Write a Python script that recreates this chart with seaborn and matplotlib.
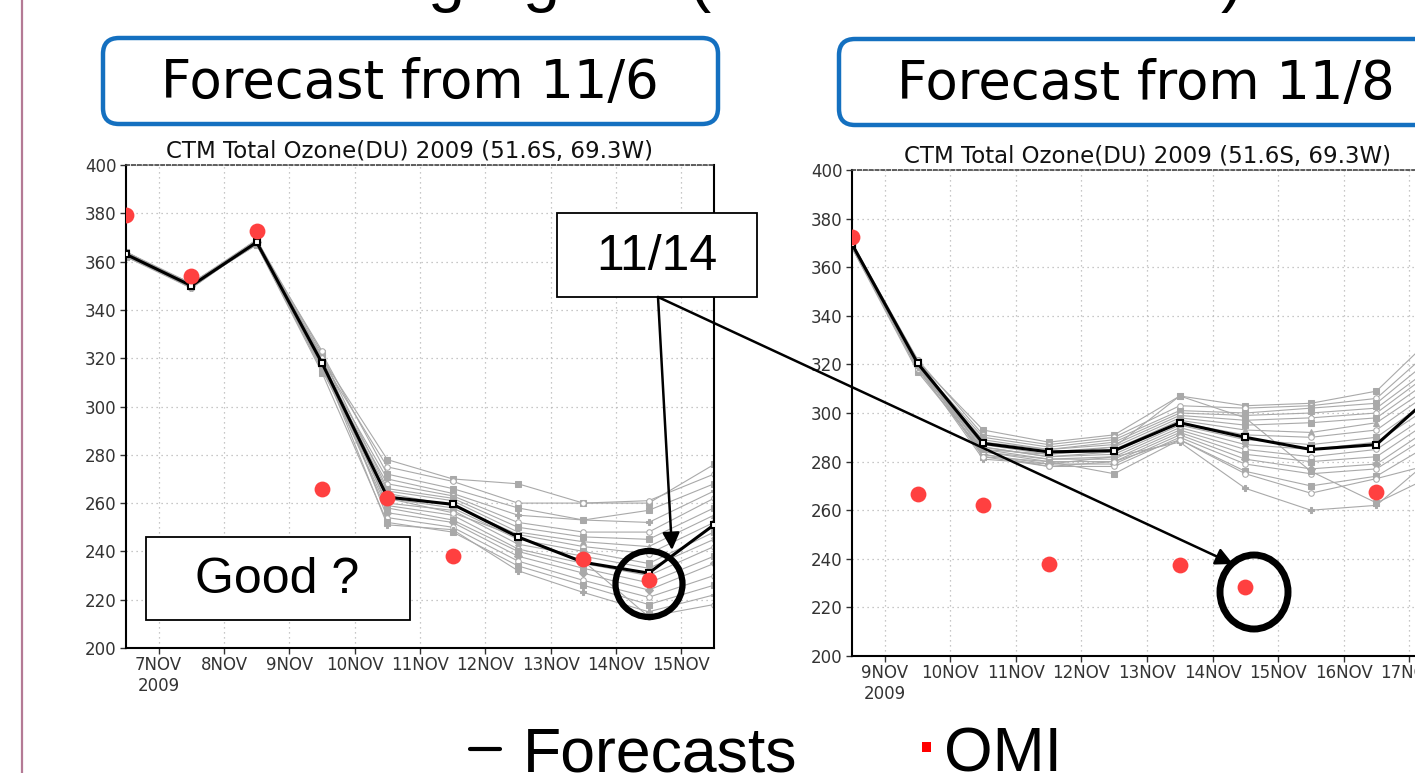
import matplotlib
matplotlib.use("Agg")
import matplotlib.pyplot as plt
import pandas as pd
import seaborn as sns
from matplotlib.lines import Line2D
from matplotlib.patches import Ellipse, FancyArrowPatch, FancyBboxPatch, Rectangle
from matplotlib.transforms import Affine2D

W, H, DPI = 1415, 773, 100

# ---- data (day 7.5 = 7 Nov 12Z) ----
title = "CTM Total Ozone(DU) 2009 (51.6S, 69.3W)"

left_days = [6.5, 7.5, 8.5, 9.5, 10.5, 11.5, 12.5, 13.5, 14.5, 15.5]
left_forecast = [363, 350, 368, 318, 262.5, 259.5, 246, 235.5, 231, 251]
left_omi_days = [6.5, 7.5, 8.5, 9.5, 10.5, 11.5, 13.5, 14.5]
left_omi = [379.5, 354, 372.5, 266, 262, 238, 237, 228]
left_ticks = [7, 8, 9, 10, 11, 12, 13, 14, 15]
left_ticklabels = ["7NOV\n2009", "8NOV", "9NOV", "10NOV", "11NOV", "12NOV",
                   "13NOV", "14NOV", "15NOV"]
left_members = [
    [363, 351, 368, 320, 278, 270, 268, 260, 260, 276],
    [362, 350, 367, 319, 275, 269, 260, 260, 261, 272],
    [364, 351, 369, 322, 272, 266, 258, 253, 257, 268],
    [363, 350, 368, 317, 270, 264, 255, 253, 252, 265],
    [362, 349, 368, 316, 268, 263, 252, 248, 248, 262],
    [363, 351, 368, 321, 266, 262, 250, 246, 245, 258],
    [364, 350, 369, 318, 265, 261, 248, 244, 242, 255],
    [362, 350, 367, 315, 264, 259, 247, 242, 239, 252],
    [363, 351, 368, 319, 262, 258, 245, 240, 235, 248],
    [363, 349, 368, 317, 260, 257, 243, 238, 233, 245],
    [364, 350, 369, 320, 259, 255, 241, 235, 230, 242],
    [362, 351, 367, 316, 258, 253, 240, 233, 227, 238],
    [363, 350, 368, 318, 256, 252, 238, 231, 224, 235],
    [363, 350, 368, 323, 254, 250, 236, 228, 221, 230],
    [362, 351, 367, 314, 252, 248, 234, 226, 218, 226],
    [364, 350, 369, 318, 251, 249, 232, 223, 215, 222],
    [363, 350, 368, 319, 262, 256, 246, 236, 213, 218],
]

right_days = [8.5, 9.5, 10.5, 11.5, 12.5, 13.5, 14.5, 15.5, 16.5, 17.5]
right_forecast = [369.5, 320.5, 287.5, 284, 284.5, 296, 290, 285, 287, 311]
right_omi_days = [8.5, 9.5, 10.5, 11.5, 13.5, 14.5, 16.5]
right_omi = [372.5, 266.5, 262, 238, 237.5, 228.5, 267.5]
right_ticks = [9, 10, 11, 12, 13, 14, 15, 16, 17]
right_ticklabels = ["9NOV\n2009", "10NOV", "11NOV", "12NOV", "13NOV", "14NOV",
                    "15NOV", "16NOV", "17NOV"]
right_members = [
    [369, 321, 293, 288, 291, 307, 303, 304, 309, 335],
    [370, 322, 291, 287, 290, 303, 302, 303, 306, 330],
    [369, 320, 290, 286, 289, 301, 300, 302, 304, 326],
    [368, 319, 289, 285, 288, 300, 299, 300, 302, 322],
    [370, 321, 288, 285, 287, 299, 297, 298, 300, 320],
    [369, 320, 287, 284, 286, 298, 295, 296, 298, 317],
    [369, 318, 287, 283, 285, 297, 293, 292, 296, 314],
    [368, 322, 286, 282, 284, 296, 291, 290, 293, 312],
    [370, 320, 286, 282, 283, 295, 289, 287, 290, 309],
    [369, 319, 285, 281, 282, 294, 287, 285, 288, 306],
    [369, 321, 284, 281, 281, 293, 285, 282, 285, 303],
    [368, 317, 284, 280, 280, 292, 283, 280, 282, 300],
    [370, 320, 283, 279, 279, 291, 281, 277, 279, 297],
    [369, 318, 283, 278, 278, 290, 279, 275, 277, 294],
    [369, 320, 282, 280, 275, 289, 276, 270, 274, 290],
    [368, 319, 281, 279, 282, 288, 269, 260, 262, 285],
    [370, 321, 282, 278, 280, 289, 275, 267, 273, 280],
    [369, 320, 285, 283, 286, 307, 298, 276, 263, 276],
]

yticks = list(range(200, 401, 20))
member_markers = ["s", "o", "s", "P", "o", "s", "^", "o", "s", "X", "o", "s", "D", "o", "s", "P", "o", "s"]

GRAY = "#a9a9a9"
RED = "#ff4040"
BLUE = "#1470c0"

sns.set_style("white")
plt.rcParams["font.family"] = ["DejaVu Sans"]

fig = plt.figure(figsize=(W / DPI, H / DPI), dpi=DPI)
PX = Affine2D().scale(1 / DPI, -1 / DPI).translate(0, H / DPI) + fig.dpi_scale_trans


def axes_at(x0, y0, x1, y1):
    return fig.add_axes([x0 / W, (H - y1) / H, (x1 - x0) / W, (y1 - y0) / H])


def draw_panel(ax, days, members, forecast, omi_days, omi, ticks, ticklabels):
    rows = []
    for i, vals in enumerate(members):
        for d, v in zip(days, vals):
            rows.append({"member": f"m{i:02d}", "day": d, "du": v})
    ens = pd.DataFrame(rows)
    n = len(members)
    sns.lineplot(data=ens, x="day", y="du", hue="member", style="member",
                 palette=[GRAY] * n, markers=member_markers[:n], dashes=False,
                 markersize=4, linewidth=0.8, markeredgecolor=GRAY,
                 legend=False, sort=False, ax=ax)
    for k, line in enumerate(ax.lines):
        if k % 3 == 1:
            line.set_markerfacecolor("white")
    sns.lineplot(x=days, y=forecast, color="black", linewidth=2.2, marker="s",
                 markersize=5, markerfacecolor="white", markeredgecolor="black",
                 markeredgewidth=1.5, ax=ax, zorder=4)
    sns.scatterplot(x=omi_days, y=omi, color=RED, s=130, linewidth=0, ax=ax, zorder=5)

    ax.set_xlim(days[0], days[-1])
    ax.set_ylim(200, 400)
    ax.set_xticks(ticks)
    ax.set_xticklabels(ticklabels)
    ax.set_yticks(yticks)
    ax.set_xlabel("")
    ax.set_ylabel("")
    ax.grid(True, color="#b5b5b5", linestyle=(0, (1, 3)), linewidth=0.9)
    ax.set_axisbelow(True)
    ax.tick_params(axis="both", direction="out", length=4, width=1, color="#333333",
                   labelsize=12, labelcolor="#333333", pad=3)
    ax.tick_params(axis="x", bottom=True, pad=2)
    ax.tick_params(axis="y", left=True)
    for side in ["left", "bottom", "right"]:
        ax.spines[side].set_color("black")
        ax.spines[side].set_linewidth(1.5)
    ax.spines["top"].set_color("#444444")
    ax.spines["top"].set_linestyle((0, (2, 1.5)))
    ax.spines["top"].set_linewidth(1.2)


ax_l = axes_at(126, 165, 714, 648)
draw_panel(ax_l, left_days, left_members, left_forecast, left_omi_days, left_omi,
           left_ticks, left_ticklabels)
ax_r = axes_at(852, 170, 1442, 656)
draw_panel(ax_r, right_days, right_members, right_forecast, right_omi_days, right_omi,
           right_ticks, right_ticklabels)

# panel titles
fig.text(410, 158, title, transform=PX, ha="center", va="baseline", fontsize=16.5, color="#111111")
fig.text(1148, 163, title, transform=PX, ha="center", va="baseline", fontsize=16.5, color="#111111")

# slide decoration: margin line and clipped heading
fig.add_artist(Line2D([21.5, 21.5], [0, H], transform=PX, color="#b47a95", linewidth=1.6))
for gx, glyph in [(446, "g"), (541, "g"), (700, "("), (1232, ")")]:
    fig.text(gx, -1, glyph, transform=PX, ha="center", va="baseline", fontsize=48,
             family="Liberation Sans", color="black")

# blue header boxes
for (x0, y0, x1, y1) in [(103, 38, 718, 124), (839, 39, 1460, 125)]:
    fig.add_artist(FancyBboxPatch((x0, y0), x1 - x0, y1 - y0,
                                  boxstyle="round,pad=0,rounding_size=16",
                                  transform=PX, facecolor="white", edgecolor=BLUE,
                                  linewidth=3.2, zorder=5))
fig.text(410, 83, "Forecast from 11/6", transform=PX, ha="center", va="center",
         fontsize=38, color="black", zorder=6)
fig.text(1146, 84, "Forecast from 11/8", transform=PX, ha="center", va="center",
         fontsize=38, color="black", zorder=6)

# callouts
fig.add_artist(Rectangle((557, 213), 200, 84, transform=PX, facecolor="white",
                         edgecolor="black", linewidth=1.3, zorder=5))
fig.text(657, 257, "11/14", transform=PX, ha="center", va="center", fontsize=36,
         family="Liberation Sans", color="black", zorder=6)
fig.add_artist(Rectangle((146, 537), 264, 83, transform=PX, facecolor="white",
                         edgecolor="black", linewidth=1.3, zorder=5))
fig.text(277, 580, "Good ?", transform=PX, ha="center", va="center", fontsize=36,
         family="Liberation Sans", color="black", zorder=6)

for tip in [(672, 550), (1233, 564)]:
    fig.add_artist(FancyArrowPatch((658, 297), tip, transform=PX, arrowstyle="-|>",
                                   mutation_scale=26, linewidth=1.8, color="black",
                                   shrinkA=0, shrinkB=0, zorder=6))
fig.add_artist(Ellipse((649, 584), 67, 66, transform=PX, facecolor="none",
                       edgecolor="black", linewidth=4.5, zorder=6))
fig.add_artist(Ellipse((1254, 592), 68, 74, transform=PX, facecolor="none",
                       edgecolor="black", linewidth=5, zorder=6))

# bottom legend
fig.add_artist(Line2D([470, 500], [749, 749], transform=PX, color="black", linewidth=3))
fig.text(523, 771, "Forecasts", transform=PX, ha="left", va="baseline", fontsize=45,
         family="Liberation Sans", color="black")
fig.add_artist(Rectangle((922, 742), 9, 10, transform=PX, facecolor="#ff0000",
                         edgecolor="none"))
fig.text(944, 771, "OMI", transform=PX, ha="left", va="baseline", fontsize=45,
         family="Liberation Sans", color="black")

fig.savefig("out.png", dpi=DPI)
